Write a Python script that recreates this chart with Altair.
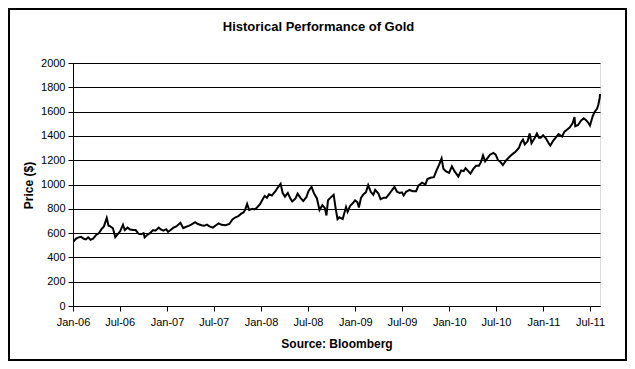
import altair as alt
import pandas as pd

# ---- data ----
dates = [
    # 2006
    "2006-01-03", "2006-01-13", "2006-01-23", "2006-02-01", "2006-02-10", "2006-02-20",
    "2006-03-01", "2006-03-10", "2006-03-20", "2006-04-01", "2006-04-12", "2006-04-21",
    "2006-05-01", "2006-05-12", "2006-05-19", "2006-05-26", "2006-06-05", "2006-06-14",
    "2006-06-23", "2006-07-03", "2006-07-14", "2006-07-21", "2006-08-01", "2006-08-11",
    "2006-08-22", "2006-09-01", "2006-09-12", "2006-09-22", "2006-10-02", "2006-10-06",
    "2006-10-16", "2006-10-27", "2006-11-08", "2006-11-17", "2006-11-30", "2006-12-08",
    "2006-12-18", "2006-12-29",
    # 2007
    "2007-01-05", "2007-01-15", "2007-01-26", "2007-02-06", "2007-02-22", "2007-03-05",
    "2007-03-14", "2007-03-26", "2007-04-05", "2007-04-20", "2007-05-01", "2007-05-15",
    "2007-05-25", "2007-06-05", "2007-06-15", "2007-06-28", "2007-07-10", "2007-07-20",
    "2007-08-01", "2007-08-16", "2007-08-31", "2007-09-12", "2007-09-24", "2007-10-05",
    "2007-10-16", "2007-10-25", "2007-11-01", "2007-11-08", "2007-11-16", "2007-11-28",
    "2007-12-06", "2007-12-14", "2007-12-28",
    # 2008
    "2008-01-08", "2008-01-15", "2008-01-24", "2008-02-01", "2008-02-12", "2008-02-26",
    "2008-03-06", "2008-03-17", "2008-03-25", "2008-04-03", "2008-04-14", "2008-04-25",
    "2008-05-01", "2008-05-14", "2008-05-22", "2008-06-02", "2008-06-13", "2008-06-25",
    "2008-07-03", "2008-07-15", "2008-07-25", "2008-08-05", "2008-08-15", "2008-08-26",
    "2008-09-05", "2008-09-11", "2008-09-17", "2008-09-26", "2008-10-09", "2008-10-17",
    "2008-10-24", "2008-10-31", "2008-11-13", "2008-11-26", "2008-12-02", "2008-12-12",
    "2008-12-22", "2008-12-31",
    # 2009
    "2009-01-09", "2009-01-15", "2009-01-23", "2009-02-02", "2009-02-11", "2009-02-20",
    "2009-03-02", "2009-03-12", "2009-03-19", "2009-04-01", "2009-04-09", "2009-04-21",
    "2009-05-01", "2009-05-12", "2009-05-22", "2009-06-02", "2009-06-12", "2009-06-22",
    "2009-07-01", "2009-07-08", "2009-07-17", "2009-07-31", "2009-08-12", "2009-08-25",
    "2009-09-03", "2009-09-17", "2009-09-30", "2009-10-08", "2009-10-20", "2009-11-02",
    "2009-11-12", "2009-11-23", "2009-12-02", "2009-12-09", "2009-12-18", "2009-12-31",
    # 2010
    "2010-01-11", "2010-01-21", "2010-02-05", "2010-02-16", "2010-02-26", "2010-03-05",
    "2010-03-24", "2010-04-05", "2010-04-15", "2010-04-26", "2010-05-03", "2010-05-12",
    "2010-05-20", "2010-06-01", "2010-06-08", "2010-06-21", "2010-06-30", "2010-07-09",
    "2010-07-19", "2010-07-28", "2010-08-10", "2010-08-24", "2010-09-03", "2010-09-15",
    "2010-09-28", "2010-10-06", "2010-10-14", "2010-10-21", "2010-11-01", "2010-11-09",
    "2010-11-16", "2010-11-29", "2010-12-07", "2010-12-15", "2010-12-22", "2010-12-31",
    # 2011
    "2011-01-11", "2011-01-20", "2011-01-28", "2011-02-08", "2011-02-18", "2011-03-01",
    "2011-03-15", "2011-03-24", "2011-04-05", "2011-04-14", "2011-04-25", "2011-05-02",
    "2011-05-05", "2011-05-16", "2011-05-27", "2011-06-07", "2011-06-16", "2011-06-24",
    "2011-07-01", "2011-07-12", "2011-07-20", "2011-07-29", "2011-08-03", "2011-08-08",
    "2011-08-09",
]

prices = [
    # 2006
    530, 555, 565, 570, 555, 548,
    565, 545, 555, 585, 600, 630,
    655, 725, 660, 655, 640, 567,
    590, 615, 668, 625, 645, 630,
    625, 625, 595, 590, 600, 565,
    585, 600, 625, 620, 645, 630,
    620, 632,
    # 2007
    610, 625, 645, 655, 685, 640,
    650, 660, 670, 690, 675, 665,
    660, 670, 655, 645, 665, 680,
    668, 665, 675, 712, 730, 740,
    760, 770, 795, 840, 790, 800,
    795, 805, 838,
    # 2008
    880, 905, 890, 920, 910, 945,
    975, 1005, 930, 900, 930, 880,
    860, 885, 925, 890, 865, 895,
    945, 980, 925, 885, 790, 830,
    805, 745, 870, 890, 915, 800,
    715, 730, 715, 815, 775, 825,
    845, 870,
    # 2009
    855, 810, 890, 920, 935, 995,
    940, 915, 955, 925, 880, 890,
    890, 920, 950, 980, 940, 930,
    935, 910, 940, 955, 945, 945,
    990, 1015, 1000, 1045, 1055, 1060,
    1115, 1165, 1215, 1130, 1110, 1095,
    # 2010
    1150, 1110, 1065, 1115, 1110, 1135,
    1090, 1130, 1155, 1155, 1180, 1240,
    1190, 1225, 1245, 1260, 1245, 1200,
    1185, 1160, 1200, 1230, 1250, 1270,
    1300, 1345, 1370, 1330, 1355, 1420,
    1340, 1385, 1420, 1385, 1385, 1405,
    # 2011
    1380, 1345, 1320, 1360, 1385, 1415,
    1395, 1435, 1455, 1470, 1505, 1555,
    1480, 1490, 1525, 1545, 1530, 1510,
    1485, 1565, 1600, 1625, 1660, 1715,
    1745,
]

y_ticks = [0, 200, 400, 600, 800, 1000, 1200, 1400, 1600, 1800, 2000]
x_tick_months = [(2006, 1), (2006, 7), (2007, 1), (2007, 7), (2008, 1), (2008, 7),
                 (2009, 1), (2009, 7), (2010, 1), (2010, 7), (2011, 1), (2011, 7)]
x_start = (2006, 1, 1)
x_end = (2011, 8, 9)

chart_title = "Historical Performance of Gold"
y_title = "Price ($)"
x_title = "Source: Bloomberg"

FONT = "Liberation Sans"

df = pd.DataFrame({"date": [d + "T00:00" for d in dates], "price": prices})

line = alt.Chart(df).mark_line(color="black", strokeWidth=2).encode(
    x=alt.X(
        "date:T",
        scale=alt.Scale(
            domain=[alt.DateTime(year=x_start[0], month=x_start[1], date=x_start[2]),
                    alt.DateTime(year=x_end[0], month=x_end[1], date=x_end[2])],
            nice=False,
        ),
        axis=alt.Axis(
            values=[alt.DateTime(year=y, month=m, date=1) for y, m in x_tick_months],
            format="%b-%y",
            title=x_title,
            grid=False,
            domainColor="black",
            tickColor="black",
            tickSize=5,
            labelPadding=5,
            labelFont=FONT,
            labelFontSize=11,
            labelColor="black",
            labelFlush=False,
            labelOverlap=False,
            titleFont=FONT,
            titleFontSize=12,
            titleFontWeight="bold",
            titleColor="black",
            titleBaseline="middle",
            titleY=37,
        ),
    ),
    y=alt.Y(
        "price:Q",
        scale=alt.Scale(domain=[0, 2000], nice=False),
        axis=alt.Axis(
            values=y_ticks,
            format="d",
            title=y_title,
            grid=True,
            gridColor="black",
            gridOpacity=1,
            gridWidth=1,
            domainColor="black",
            tickColor="black",
            tickSize=5,
            labelPadding=3,
            labelFont=FONT,
            labelFontSize=11,
            labelColor="black",
            labelOverlap=False,
            titleFont=FONT,
            titleFontSize=12,
            titleFontWeight="bold",
            titleColor="black",
            titleAngle=270,
            titleBaseline="middle",
            titleAlign="center",
            titleX=-45,
            titleY=122,
        ),
    ),
)

frame = alt.Chart(pd.DataFrame({"k": [0]})).mark_rect(
    fill="transparent", stroke="black", strokeWidth=2
).encode(
    x=alt.value(-64), x2=alt.value(553), y=alt.value(-54), y2=alt.value(297)
)

chart = alt.layer(line, frame).properties(
    width=527,
    height=243,
    title=alt.TitleParams(
        chart_title, font=FONT, fontSize=13, fontWeight="bold", color="black",
        anchor="middle", offset=-26, dx=-18,
    ),
    autosize=alt.AutoSizeParams(type="none"),
    padding={"left": 65, "top": 55, "right": 27, "bottom": 55},
).configure_view(stroke=None).configure(background="white")

chart.save("out.html", embed_options={"renderer": "svg", "actions": False})
